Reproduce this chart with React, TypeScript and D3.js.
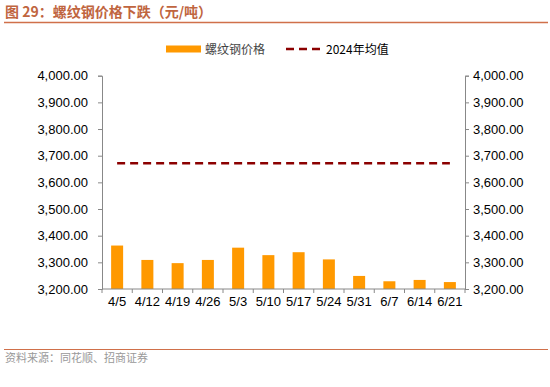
import { useEffect, useRef } from 'react';
import * as d3 from 'd3';

const categories = ['4/5', '4/12', '4/19', '4/26', '5/3', '5/10', '5/17', '5/24', '5/31', '6/7', '6/14', '6/21'];
const rebarPrice = [3363, 3309, 3297, 3309, 3355, 3327, 3338, 3311, 3249, 3229, 3234, 3226];
const avg2024 = 3672;
const yTicks = [3200, 3300, 3400, 3500, 3600, 3700, 3800, 3900, 4000];

const W = 550;
const H = 387;
const FONT = '"Liberation Sans", Arial, "Noto Sans CJK SC", sans-serif';
const CJK = '"Noto Sans CJK SC", sans-serif';

export default function App() {
  const svgRef = useRef<SVGSVGElement>(null);

  useEffect(() => {
    const svg = d3.select(svgRef.current);
    svg.selectAll('*').remove();

    const left = 102;
    const right = 465;
    const top = 75.7;
    const bottom = 289;

    // Title
    svg.append('text')
      .attr('x', 5).attr('y', 17)
      .attr('font-family', CJK).attr('font-size', 14).attr('font-weight', 'bold')
      .attr('fill', '#c0653f')
      .text('图 29：螺纹钢价格下跌（元/吨）');
    svg.append('line')
      .attr('x1', 4).attr('x2', 548).attr('y1', 22.5).attr('y2', 22.5)
      .attr('stroke', '#d0704a').attr('stroke-width', 1.5);

    // Footer
    svg.append('line')
      .attr('x1', 4).attr('x2', 548).attr('y1', 349.5).attr('y2', 349.5)
      .attr('stroke', '#d0704a').attr('stroke-width', 1);
    svg.append('text')
      .attr('x', 5).attr('y', 362)
      .attr('font-family', CJK).attr('font-size', 11)
      .attr('fill', '#999')
      .text('资料来源：同花顺、招商证券');

    const xc = d3.scaleBand().domain(categories).range([left, right]);
    const y = d3.scaleLinear().domain([3200, 4000]).range([bottom, top]);

    // Bars
    svg.append('g').selectAll('rect')
      .data(rebarPrice)
      .enter()
      .append('rect')
      .attr('x', (_, i) => xc(categories[i])! + (xc.bandwidth() - 12) / 2)
      .attr('width', 12)
      .attr('y', d => y(d))
      .attr('height', d => bottom - y(d))
      .attr('fill', '#ff9900');

    // Average line
    svg.append('line')
      .attr('x1', xc(categories[0])! + xc.bandwidth() / 2)
      .attr('x2', xc(categories[categories.length - 1])! + xc.bandwidth() / 2)
      .attr('y1', y(avg2024)).attr('y2', y(avg2024))
      .attr('stroke', '#8b0000').attr('stroke-width', 2.5)
      .attr('stroke-dasharray', '8,5');

    const axisColor = '#888';
    const styleAxis = (g: d3.Selection<SVGGElement, unknown, null, undefined>) => {
      g.selectAll('path').attr('stroke', axisColor);
      g.selectAll('line').attr('stroke', axisColor);
      g.selectAll('text').attr('font-family', FONT).attr('font-size', 13).attr('fill', '#000');
    };

    const fmt = d3.format(',.2f');
    svg.append('g')
      .attr('transform', `translate(${left},0)`)
      .call(d3.axisLeft(y).tickValues(yTicks).tickFormat(d => fmt(d as number)).tickSizeOuter(0).tickSize(4).tickPadding(10))
      .call(styleAxis);
    svg.append('g')
      .attr('transform', `translate(${right},0)`)
      .call(d3.axisRight(y).tickValues(yTicks).tickFormat(d => fmt(d as number)).tickSizeOuter(0).tickSize(4).tickPadding(4))
      .call(styleAxis);

    // X axis
    const xg = svg.append('g').attr('transform', `translate(0,${bottom})`);
    xg.append('line').attr('x1', left).attr('x2', right).attr('stroke', axisColor);
    xg.selectAll('line.tick')
      .data(d3.range(categories.length + 1))
      .enter()
      .append('line')
      .attr('class', 'tick')
      .attr('x1', i => left + i * xc.step()).attr('x2', i => left + i * xc.step())
      .attr('y1', 0).attr('y2', 4)
      .attr('stroke', axisColor);
    xg.selectAll('text')
      .data(categories)
      .enter()
      .append('text')
      .attr('x', d => xc(d)! + xc.bandwidth() / 2)
      .attr('y', 16.5)
      .attr('text-anchor', 'middle')
      .attr('font-family', FONT).attr('font-size', 13)
      .text(d => d);

    // Legend
    const lg = svg.append('g');
    lg.append('rect').attr('x', 166).attr('y', 45.5).attr('width', 35).attr('height', 7).attr('fill', '#ff9900');
    lg.append('text').attr('x', 205).attr('y', 53.5)
      .attr('font-family', CJK).attr('font-size', 12).attr('fill', '#444')
      .text('螺纹钢价格');
    lg.append('line').attr('x1', 286).attr('x2', 323).attr('y1', 49).attr('y2', 49)
      .attr('stroke', '#8b0000').attr('stroke-width', 2.5).attr('stroke-dasharray', '8,5');
    lg.append('text').attr('x', 326).attr('y', 53.5)
      .attr('font-family', CJK).attr('font-size', 12).attr('fill', '#000')
      .text('2024年均值');
  }, []);

  return (
    <div style={{ width: W, height: H }}>
      <svg ref={svgRef} width={W} height={H} style={{ position: 'absolute', left: 0, top: 0 }} />
    </div>
  );
}
